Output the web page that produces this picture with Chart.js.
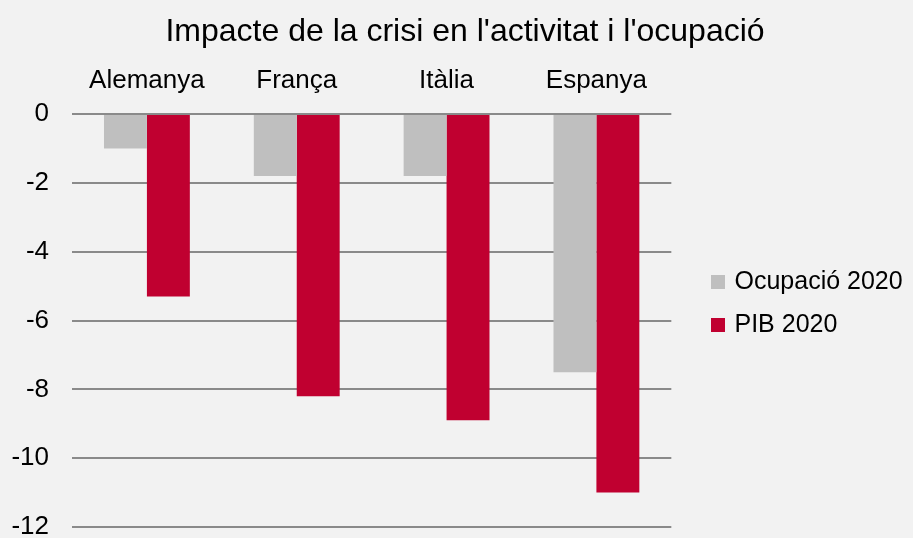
<!DOCTYPE html>
<html>
<head>
<meta charset="utf-8">
<script src="https://cdn.jsdelivr.net/npm/chart.js@4/dist/chart.umd.min.js"></script>
<style>
  html, body { margin: 0; padding: 0; background: #f2f2f2; }
  #wrap { width: 913px; height: 538px; }
</style>
</head>
<body>
<div id="wrap"><canvas id="c" width="913" height="538"></canvas></div>
<script>
const titleText = "Impacte de la crisi en l'activitat i l'ocupació";
const categories = ["Alemanya", "França", "Itàlia", "Espanya"];
const ocupacio2020 = [-1.0, -1.8, -1.8, -7.5];
const pib2020 = [-5.3, -8.2, -8.9, -11.0];
const seriesNames = ["Ocupació 2020", "PIB 2020"];
const yTicks = [0, -2, -4, -6, -8, -10, -12];

const FONT = "'Liberation Sans', Arial, sans-serif";
const TITLE_SIZE = 32, TITLE_PAD_TOP = 13, LABEL_SIZE = 26, LEGEND_SIZE = 25;
const COLORS = ['#bfbfbf', '#c00030'];

const shiftPlugin = {
  id: 'shiftBoxes',
  afterLayout(chart) {
    const lg = chart.legend;
    if (lg) {
      const dx = 714 - (lg.left + lg.options.labels.padding);
      lg.left += dx; lg.right += dx;
      const dy = 40;
      lg.top += dy; lg.bottom += dy;
    }
    const t = chart.titleBlock;
    if (t) {
      const sx = 465 - (t.left + t.right) / 2;
      t.left += sx; t.right += sx;
    }
  }
};

new Chart(document.getElementById('c'), {
  type: 'bar',
  data: {
    labels: categories,
    datasets: [
      { label: seriesNames[0], data: ocupacio2020, backgroundColor: COLORS[0], borderWidth: 0 },
      { label: seriesNames[1], data: pib2020, backgroundColor: COLORS[1], borderWidth: 0 }
    ]
  },
  plugins: [shiftPlugin],
  options: {
    responsive: false,
    animation: false,
    devicePixelRatio: 1,
    layout: { padding: { left: 0, right: 25, top: 0, bottom: 11 } },
    datasets: { bar: { categoryPercentage: 0.573, barPercentage: 1.0 } },
    plugins: {
      title: {
        display: true,
        text: titleText,
        color: '#000',
        font: { family: FONT, size: TITLE_SIZE, weight: 'normal' },
        padding: { top: TITLE_PAD_TOP, bottom: 0 }
      },
      legend: {
        position: 'right',
        labels: {
          color: '#000',
          font: { family: FONT, size: LEGEND_SIZE },
          boxWidth: 8,
          boxHeight: 8,
          padding: 18,
          generateLabels: (chart) => chart.data.datasets.map((ds, i) => ({
            text: ds.label,
            fillStyle: ds.backgroundColor,
            strokeStyle: ds.backgroundColor,
            lineWidth: 6,
            lineJoin: 'miter',
            fontColor: '#000',
            hidden: !chart.isDatasetVisible(i),
            datasetIndex: i
          }))
        }
      },
      tooltip: { enabled: false }
    },
    scales: {
      x: {
        position: 'top',
        grid: { display: false, drawTicks: false, tickLength: 0 },
        border: { display: false },
        ticks: { color: '#000', font: { family: FONT, size: LABEL_SIZE }, padding: 18 },
        afterFit: (s) => { s.height = 114 - (TITLE_SIZE * 1.2 + TITLE_PAD_TOP); s.paddingLeft = 0; s.paddingRight = 0; }
      },
      y: {
        min: -12,
        max: 0,
        afterBuildTicks: (s) => { s.ticks = yTicks.map(v => ({ value: v })); },
        grid: { color: '#8a8a8a', lineWidth: 2, drawTicks: false, tickLength: 0 },
        border: { display: false },
        ticks: { color: '#000', font: { family: FONT, size: LABEL_SIZE }, padding: 23 },
        afterFit: (s) => { s.width = 72; s.paddingTop = 0; s.paddingBottom = 0; }
      }
    }
  }
});
</script>
</body>
</html>
